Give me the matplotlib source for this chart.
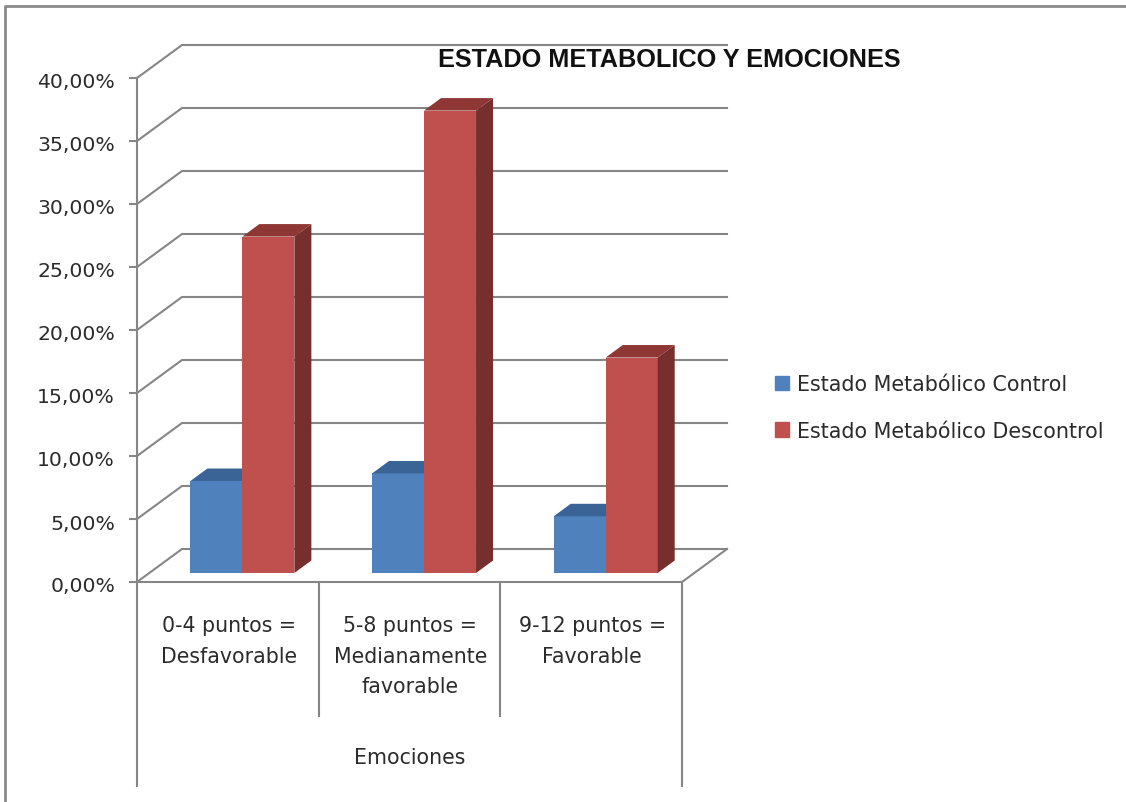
from matplotlib import pyplot as plt
from matplotlib.lines import Line2D
from matplotlib.patches import Patch
from matplotlib.ticker import FuncFormatter
from matplotlib.transforms import ScaledTranslation

categories = ["0-4 puntos =\nDesfavorable", "5-8 puntos =\nMedianamente\nfavorable", "9-12 puntos =\nFavorable"]
group_label = "Emociones"
control = [7.3, 7.9, 4.5]
descontrol = [26.7, 36.7, 17.1]
series_names = ["Estado Metabólico Control", "Estado Metabólico Descontrol"]
y_ticks = [0, 5, 10, 15, 20, 25, 30, 35, 40]
title = "ESTADO METABOLICO Y EMOCIONES"

W, H = 1126, 803
GRID = '#868686'
TEXT = '#2b2b2b'
BLUE, BLUE_TOP = '#4F81BD', '#3A6496'
RED, RED_TOP, RED_SIDE = '#C0504D', '#8F3735', '#772F2D'

# axes box in pixels of the reference
LEFT, RIGHT, TOP, BOTTOM = 137, 682, 79, 583
PX_X = (RIGHT - LEFT) / 3   # pixels per category
PX_Y = (BOTTOM - TOP) / 40  # pixels per percent

# 3d depth, in data units
wall_dx, wall_dy = 45 / PX_X, 33 / PX_Y
bar_dx, bar_dy = 17 / PX_X, 12.5 / PX_Y
floor_y = 9 / PX_Y
bar_w = 52 / PX_X
shift = 0.08


def draw_box(ax, xs, values, front, top_c, side_c):
    ax.bar(xs, values, bar_w, bottom=floor_y, color=front, zorder=3)
    for x, v in zip(xs, values):
        x0, x1, y0, y1 = x - bar_w / 2, x + bar_w / 2, floor_y, floor_y + v
        ax.fill([x0, x1, x1 + bar_dx, x0 + bar_dx], [y1, y1, y1 + bar_dy, y1 + bar_dy],
                color=top_c, lw=0, zorder=3, clip_on=False)
        if side_c:
            ax.fill([x1, x1 + bar_dx, x1 + bar_dx, x1], [y0, y0 + bar_dy, y1 + bar_dy, y1],
                    color=side_c, lw=0, zorder=3, clip_on=False)


fig = plt.figure(figsize=(W / 100, H / 100), dpi=100)
ax = fig.add_axes([LEFT / W, 1 - BOTTOM / H, (RIGHT - LEFT) / W, (BOTTOM - TOP) / H])
ax.set_xlim(0, 3)
ax.set_ylim(0, 40)
ax.patch.set_visible(False)

for name in ['top', 'right']:
    ax.spines[name].set_visible(False)
for name in ['left', 'bottom']:
    ax.spines[name].set_color(GRID)
    ax.spines[name].set_linewidth(1.5)
ax.set_xticks([])
ax.set_yticks(y_ticks)
ax.yaxis.set_major_formatter(FuncFormatter(lambda v, p: f"{v:.2f}%".replace('.', ',')))
ax.tick_params(axis='y', length=5.8, width=1.5, color=GRID, labelcolor=TEXT, labelsize=14.7, pad=10)
# tick labels sit a little below their ticks
nudge = ScaledTranslation(0, -2 / 100, fig.dpi_scale_trans)
for lab in ax.get_yticklabels():
    lab.set_transform(lab.get_transform() + nudge)

# back wall and left wall grid
for t in y_ticks:
    ax.plot([3 + wall_dx, wall_dx, 0], [t + wall_dy, t + wall_dy, t], color=GRID, lw=1.5,
            clip_on=False, zorder=1, solid_joinstyle='round')
ax.plot([3, 3 + wall_dx], [0, wall_dy], color=GRID, lw=1.5, clip_on=False, zorder=1)

xs_blue = [i + 0.5 + shift - bar_w / 2 for i in range(3)]
xs_red = [i + 0.5 + shift + bar_w / 2 for i in range(3)]
draw_box(ax, xs_blue, control, BLUE, BLUE_TOP, None)
draw_box(ax, xs_red, descontrol, RED, RED_TOP, RED_SIDE)

# multi level category axis below the plot
for x, low in [(0, 204), (1, 134), (2, 134), (3, 204)]:
    ax.plot([x, x], [0, -low / PX_Y], color=GRID, lw=1.5, clip_on=False)
for i, label in enumerate(categories):
    ax.text(i + 0.5 + 0.005, -33 / PX_Y, label, ha='center', va='top', fontsize=14.8, color=TEXT,
            linespacing=1.66, clip_on=False)
ax.text(1.5, -175 / PX_Y, group_label, ha='center', va='center', fontsize=14.8, color=TEXT)

fig.text(669 / W, 1 - 60 / H, title, ha='center', va='center', fontsize=18.2, fontweight='bold',
         family='Liberation Sans', color='#111111')

handles = [Patch(color=BLUE), Patch(color=RED)]
fig.legend(handles, series_names, loc='upper left', bbox_to_anchor=(775 / W, 1 - 375 / H), frameon=False,
           fontsize=14.9, labelcolor=TEXT, borderpad=0, borderaxespad=0, handlelength=0.7, handleheight=0.7,
           handletextpad=0.35, labelspacing=1.3)

# outer frame, only top and left show in the picture
fig.add_artist(Line2D([5 / W, 5 / W, 1], [0, 1 - 7 / H, 1 - 7 / H], color='#8a8a8a', lw=2))

fig.savefig('out.png', dpi=100)
